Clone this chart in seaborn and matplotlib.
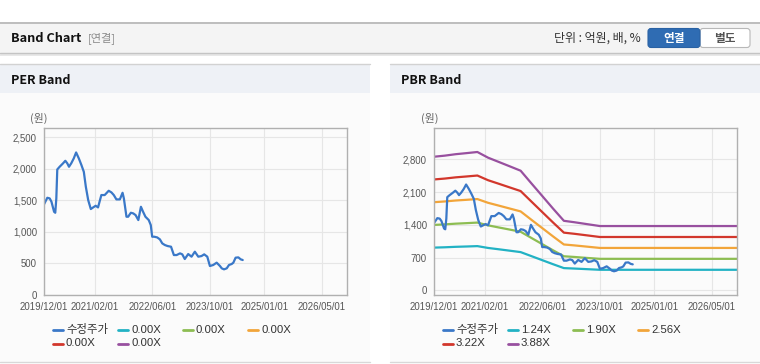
"""
Band chart (PER / PBR) recreation.
"""

import matplotlib

matplotlib.use("Agg")

import matplotlib.dates as mdates
import matplotlib.pyplot as plt
import pandas as pd
import seaborn as sns
from matplotlib.lines import Line2D
from matplotlib.patches import FancyBboxPatch, Rectangle
from matplotlib.ticker import FuncFormatter


# ==========================================================
# Data
# ==========================================================

price_dates = [
    "2019-12-01", "2019-12-29", "2020-01-18", "2020-02-02", "2020-02-24",
    "2020-03-05", "2020-03-14", "2020-03-22", "2020-04-11", "2020-05-09",
    "2020-05-29", "2020-06-15", "2020-06-29", "2020-07-18", "2020-08-08",
    "2020-08-28", "2020-09-20", "2020-10-12", "2020-11-01", "2020-11-18",
    "2020-12-08", "2020-12-30", "2021-01-19", "2021-02-09", "2021-03-01",
    "2021-03-29", "2021-04-26", "2021-05-30", "2021-06-22", "2021-07-12",
    "2021-08-03", "2021-09-01", "2021-09-24", "2021-10-05", "2021-10-27",
    "2021-11-10", "2021-12-03", "2021-12-23", "2022-01-12", "2022-02-04",
    "2022-02-26", "2022-03-16", "2022-04-05", "2022-05-03", "2022-05-20",
    "2022-06-01", "2022-06-18", "2022-07-13", "2022-08-05", "2022-08-25",
    "2022-09-16", "2022-10-09", "2022-11-07", "2022-12-01", "2022-12-24",
    "2023-01-22", "2023-02-10", "2023-03-03", "2023-04-01", "2023-04-29",
    "2023-05-27", "2023-06-25", "2023-07-22", "2023-08-14", "2023-09-09",
    "2023-10-01", "2023-10-29", "2023-11-27", "2023-12-25", "2024-01-09",
    "2024-01-28", "2024-02-20", "2024-03-10", "2024-04-02", "2024-04-16",
    "2024-05-05", "2024-05-28", "2024-06-17", "2024-07-04",
]

price_values = [
    1438, 1543, 1533, 1480, 1321,
    1305, 1533, 1992, 2035, 2088,
    2130, 2088, 2035, 2090, 2167,
    2262, 2167, 2061, 1955, 1718,
    1506, 1364, 1390, 1416, 1390,
    1586, 1586, 1654, 1628, 1586,
    1517, 1517, 1622, 1533, 1242,
    1242, 1305, 1295, 1268, 1189,
    1400, 1321, 1242, 1189, 1110,
    925, 925, 914, 883, 819,
    793, 777, 766, 634, 634,
    661, 645, 571, 650, 608,
    687, 608, 618, 645, 608,
    460, 476, 513, 460, 423,
    407, 423, 476, 492, 513,
    592, 597, 566, 555,
]

band_dates = [
    "2019-12-01", "2020-03-01", "2020-06-01", "2020-09-01", "2020-12-01",
    "2021-03-01", "2021-06-01", "2021-09-01", "2021-12-01", "2022-03-01",
    "2022-06-01", "2022-09-01", "2022-12-01", "2023-03-01", "2023-06-01",
    "2023-10-01", "2026-12-01",
]

band_124 = [913, 920, 930, 937, 945, 906, 877, 847, 817, 732,
            645, 558, 475, 465, 454, 439, 439]
band_190 = [1398, 1410, 1425, 1436, 1448, 1389, 1343, 1298, 1252, 1121,
            988, 855, 728, 713, 695, 673, 673]
band_256 = [1884, 1900, 1920, 1935, 1951, 1871, 1810, 1748, 1687, 1510,
            1331, 1152, 980, 960, 937, 906, 906]
band_322 = [2370, 2389, 2415, 2434, 2454, 2354, 2277, 2199, 2122, 1900,
            1674, 1449, 1233, 1208, 1179, 1140, 1140]
band_388 = [2856, 2879, 2910, 2933, 2957, 2836, 2743, 2650, 2557, 2289,
            2018, 1746, 1486, 1455, 1420, 1374, 1374]

tick_dates = [
    "2019-12-01", "2021-02-01", "2022-06-01",
    "2023-10-01", "2025-01-01", "2026-05-01",
]

per_yticks = [0, 500, 1000, 1500, 2000, 2500]
pbr_yticks = [0, 700, 1400, 2100, 2800]

price_label = "수정주가"
per_labels = ["0.00X", "0.00X", "0.00X", "0.00X", "0.00X"]
pbr_labels = ["1.24X", "1.90X", "2.56X", "3.22X", "3.88X"]

price_color = "#3a78c8"
band_colors = ["#22b2c4", "#8dbd52", "#f2a53a", "#d2372c", "#98509f"]


# ==========================================================
# Style
# ==========================================================

sns.set_style("white")
plt.rcParams["font.family"] = ["Liberation Sans", "Noto Sans CJK KR", "DejaVu Sans"]

W, H = 760, 364
fig = plt.figure(figsize=(W / 100, H / 100), dpi=100)
fig.patch.set_facecolor("white")

bg = fig.add_axes([0, 0, 1, 1])
bg.set_xlim(0, W)
bg.set_ylim(H, 0)
bg.axis("off")

KR = ["Noto Sans CJK KR", "DejaVu Sans"]


def px_axes(x0, y0, x1, y1):
    return fig.add_axes([x0 / W, 1 - y1 / H, (x1 - x0) / W, (y1 - y0) / H])


# ----------------------------------------------------------
# Page chrome
# ----------------------------------------------------------

bg.add_patch(Rectangle((0, 53), W, 2.5, color="#e8e8e8", lw=0))
bg.add_patch(Rectangle((0, 22), W, 31, facecolor="#f4f4f4",
                       edgecolor="none"))
bg.plot([0, W], [22.5, 22.5], color="#b4b4b4", lw=1.2)
bg.plot([0, W], [53, 53], color="#c4c4c4", lw=1.0)

bg.text(11, 38.5, "Band Chart", family=KR, fontsize=9.2, fontweight="bold",
        color="#111111", va="center")
bg.text(88, 38.5, "[연결]", family=KR, fontsize=8, color="#8a8a8a",
        va="center")
bg.text(641, 38.5, "단위 : 억원, 배, %", family=KR, fontsize=8.6,
        color="#333333", va="center", ha="right")

bg.add_patch(FancyBboxPatch((700, 28.5), 50, 19,
                            boxstyle="round,pad=0,rounding_size=3",
                            facecolor="white", edgecolor="#b8b8b8", lw=0.8))
bg.add_patch(FancyBboxPatch((648, 28.5), 52, 19,
                            boxstyle="round,pad=0,rounding_size=3",
                            facecolor="#2f6cb3", edgecolor="#2a62a4", lw=0.8))
bg.text(674, 38.5, "연결", family=KR, fontsize=8.4, fontweight="bold",
        color="white", ha="center", va="center")
bg.text(725, 38.5, "별도", family=KR, fontsize=8.4, fontweight="bold",
        color="#555555", ha="center", va="center")

for panel_x0, panel_x1, title in [(0, 370, "PER Band"), (390, 760, "PBR Band")]:
    bg.add_patch(Rectangle((panel_x0, 64), panel_x1 - panel_x0, 298,
                           facecolor="#fbfbfb", edgecolor="none"))
    bg.add_patch(Rectangle((panel_x0, 64), panel_x1 - panel_x0, 29,
                           facecolor="#eef1f6", edgecolor="none"))
    bg.plot([panel_x0, panel_x1], [64, 64], color="#d2d2d2", lw=1.0)
    bg.plot([panel_x0, panel_x1], [362, 362], color="#d8d8d8", lw=1.0)
    bg.text(panel_x0 + 11, 80, title, family=KR, fontsize=9,
            fontweight="bold", color="#111111", va="center")


# ==========================================================
# Charts
# ==========================================================

price_df = pd.DataFrame({
    "date": pd.to_datetime(price_dates),
    "value": price_values,
})

tick_dt = pd.to_datetime(tick_dates)


def style_axes(ax, yticks, ylim):
    ax.set_facecolor("none")
    ax.set_xlim(pd.Timestamp("2019-12-01"), pd.Timestamp("2026-12-01"))
    ax.set_ylim(*ylim)
    ax.set_xticks(tick_dt)
    ax.xaxis.set_major_formatter(mdates.DateFormatter("%Y/%m/%d"))
    ax.set_yticks(yticks)
    ax.yaxis.set_major_formatter(FuncFormatter(lambda v, _: f"{v:,.0f}"))
    ax.grid(True, color="#e6e6e6", lw=0.8)
    ax.set_axisbelow(True)
    for spine in ax.spines.values():
        spine.set_color("#b0b0b0")
        spine.set_linewidth(1.0)
    ax.tick_params(axis="both", length=3, width=0.8, color="#b0b0b0",
                   labelsize=6.9, labelcolor="#555555", pad=2)
    ax.set_xlabel("")
    ax.set_ylabel("")


def draw_legend(x0, y0, labels, colors):
    for i, (label, color) in enumerate(zip(labels, colors)):
        row, col = divmod(i, 4)
        lx = x0 + col * 65
        ly = y0 + row * 13.5
        bg.add_line(Line2D([lx, lx + 10], [ly, ly], color=color, lw=2))
        bg.text(lx + 13, ly, label, family=["Liberation Sans"] + KR,
                fontsize=8.2, color="#333333", va="center")


# PER band ------------------------------------------------

ax_per = px_axes(44, 128, 347, 295)

sns.lineplot(data=price_df, x="date", y="value", ax=ax_per,
             color=price_color, linewidth=1.6)

style_axes(ax_per, per_yticks, (0, 2650))

bg.text(39, 118, "(원)", family=KR, fontsize=7.8, color="#666666",
        ha="center", va="center")

draw_legend(53, 330, [price_label] + per_labels, [price_color] + band_colors)

# PBR band ------------------------------------------------

ax_pbr = px_axes(434, 128, 737, 295)

band_df = pd.DataFrame({
    "date": pd.to_datetime(band_dates),
    "1.24X": band_124,
    "1.90X": band_190,
    "2.56X": band_256,
    "3.22X": band_322,
    "3.88X": band_388,
})

for label, color in zip(pbr_labels, band_colors):
    sns.lineplot(data=band_df, x="date", y=label, ax=ax_pbr,
                 color=color, linewidth=1.6)

sns.lineplot(data=price_df, x="date", y="value", ax=ax_pbr,
             color=price_color, linewidth=1.6)

style_axes(ax_pbr, pbr_yticks, (-100, 3470))

bg.text(430, 118, "(원)", family=KR, fontsize=7.8, color="#666666",
        ha="center", va="center")

draw_legend(443, 330, [price_label] + pbr_labels, [price_color] + band_colors)

fig.savefig("out.png", dpi=100)
